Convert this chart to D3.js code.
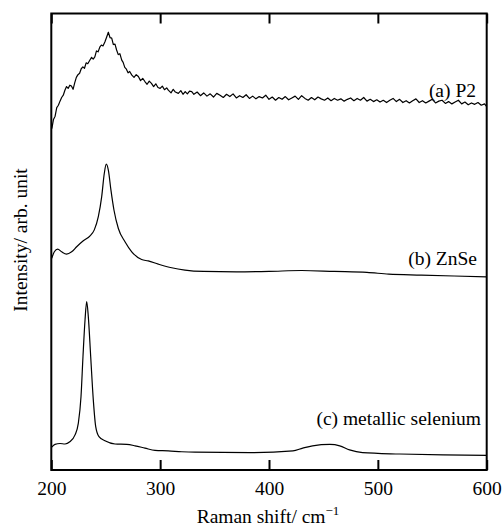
<!DOCTYPE html>
<html>
<head>
<meta charset="utf-8">
<script src="https://cdn.jsdelivr.net/npm/d3@7"></script>
<style>
  body { margin: 0; background: #fff; }
  svg { display: block; }
  text { font-family: "Liberation Serif", "DejaVu Serif", serif; fill: #000; }
</style>
</head>
<body>
<svg id="chart"></svg>
<script>
const width = 502;
const height = 527;
const margin = { top: 13.5, right: 15.3, bottom: 57, left: 51.3 };
const fontSize = 19.5;

// x ticks (Raman shift, cm-1)
const xTicks = [200, 300, 400, 500, 600];

// (a) P2 : [shift, intensity]
const seriesP2 = [
  [200.5,74.8],[202,76.8],[203.5,77.5],[205,79.4],[206.5,79.9],[208,80.8],[209.5,81.6],[211,82.1],
  [212.5,83.2],[214,84.0],[215.5,83.6],[217,84.3],[218.5,84.1],[220,83.4],[221.5,84.8],[223,86.0],
  [224.5,86.6],[226,86.9],[227.5,87.9],[229,88.3],[230.5,88.0],[232,89.2],[233.5,89.0],[235.5,89.8],
  [237,90.4],[238.5,90.0],[240,90.5],[241.5,91.8],[243,91.6],[244.7,92.7],[246,93.1],[247.5,92.9],
  [249.3,93.8],[250.8,94.8],[252.4,95.9],[254,94.7],[255.5,94.6],[257,93.2],[258.5,93.3],[260,92.0],
  [261.5,91.0],[263,91.2],[264.7,89.8],[266,89.3],[267.5,88.2],[269,87.8],[270.5,87.0],[272,87.3],
  [274,86.5],[276,86.0],[278,86.6],[280,86.2],[282,85.3],[284,85.8],[286,85.1],[288,84.5],
  [290,85.2],[292,84.7],[294,84.0],[296,84.6],[298,83.8],[300,83.6],[302,84.1],[304,83.3],
  [306,83.7],[307.5,83.2],[310,82.6],[312,83.4],[314,82.8],[316.7,82.5],[319,83.1],[321,82.3],
  [323,82.9],[325,82.4],[327,83.0],[329,82.9],[331,82.3],[334,82.8],[337,82.0],[340,82.6],
  [343,81.9],[346,82.4],[349,81.7],[352,82.5],[355,82.1],[358,81.6],[361,82.3],[364,81.8],
  [367,82.4],[370,81.5],[373,82.0],[376,81.6],[379,82.2],[382,81.4],[385,81.9],[388,81.3],
  [391,81.8],[394,81.5],[397,82.1],[400,81.2],[403,81.7],[406,81.0],[409,81.6],[412,81.2],
  [415,81.8],[418,81.1],[421,81.5],[424,81.9],[427,81.2],[430,82.0],[433,81.4],[436,81.0],
  [439,81.6],[442,81.1],[445,81.7],[448,81.3],[451,81.0],[454,81.5],[457,80.9],[460,81.4],
  [463,81.0],[466,81.3],[469,80.8],[472,81.2],[475,81.5],[478,80.9],[481,81.4],[484,81.0],
  [487,81.6],[490,80.8],[493,81.2],[496,80.7],[499,81.1],[502,80.6],[505,81.0],[508,80.5],
  [511,81.0],[514,81.4],[517,80.7],[520,81.2],[523,80.5],[526,80.9],[529,80.4],[532,80.9],
  [535,81.3],[538,80.5],[541,80.9],[544,80.4],[547,80.8],[550,81.2],[553,80.4],[556,80.8],
  [559,81.0],[562,80.3],[565,80.7],[568,80.2],[571,80.6],[574,81.0],[577,80.2],[580,80.6],
  [583,80.0],[586,80.4],[589,80.1],[592,80.5],[595,79.9],[598,80.2],[600,79.6]
];

// (b) ZnSe
const seriesZnSe = [
  [200.4,46.4],[202.8,47.8],[205.9,48.4],[209.5,47.8],[214,47.3],[218.7,47.8],[223.3,48.9],
  [229.4,50.2],[235.6,51.3],[239.5,52.6],[243.2,55.5],[246.3,59.9],[248.7,65.0],[250.5,67.0],
  [252.4,65.7],[254.8,61.3],[257.6,56.9],[261.6,52.9],[267.7,50.0],[273.9,47.8],[283,46.1],
  [289,45.8],[298.3,45.1],[310.6,44.3],[322.8,43.8],[340,43.5],[370,43.4],[400,43.5],
  [430,43.7],[460,43.5],[490,43.3],[510,42.9],[540,42.7],[570,42.5],[600,42.3]
];

// (c) metallic selenium
const seriesSe = [
  [200.4,5.0],[203.4,5.6],[208,5.8],[212.6,5.7],[217,6.2],[221.8,7.7],[224.8,10.2],[227.3,16.1],
  [229.1,24.8],[231,32.9],[232.5,36.9],[234,33.6],[236.2,24.8],[238.6,15.3],[240.8,9.5],
  [243.8,7.3],[249.3,6.4],[258.5,5.7],[269.3,5.6],[276.9,5.3],[286,4.8],[295.3,4.3],[307.5,4.2],
  [319.8,4.0],[332,3.9],[383,3.8],[422,4.2],[431,4.8],[440,5.3],[456,5.6],[465,5.3],[474,4.4],
  [486,3.8],[520,3.5],[560,3.3],[600,3.2]
];

const labels = [
  { text: "(a) P2", x: 476, y: 97 },
  { text: "(b) ZnSe", x: 477, y: 265 },
  { text: "(c) metallic selenium", x: 481, y: 425 }
];

const svg = d3.select("#chart")
    .attr("width", width)
    .attr("height", height);

const x = d3.scaleLinear()
    .domain([200, 600])
    .range([margin.left, width - margin.right]);

const y = d3.scaleLinear()
    .domain([0, 100])
    .range([height - margin.bottom, margin.top]);

// curves
const lineJagged = d3.line()
    .x(d => x(d[0]))
    .y(d => y(d[1]));

const lineSmooth = d3.line()
    .x(d => x(d[0]))
    .y(d => y(d[1]))
    .curve(d3.curveMonotoneX);

svg.append("path")
    .datum(seriesP2)
    .attr("fill", "none")
    .attr("stroke", "#000")
    .attr("stroke-width", 1.2)
    .attr("stroke-linejoin", "round")
    .attr("d", lineJagged);

[seriesZnSe, seriesSe].forEach(s => {
  svg.append("path")
      .datum(s)
      .attr("fill", "none")
      .attr("stroke", "#000")
      .attr("stroke-width", 1.2)
      .attr("d", lineSmooth);
});

// axes, ticks pointing inward
const xAxisBottom = svg.append("g")
    .attr("transform", `translate(0,${height - margin.bottom})`)
    .call(d3.axisBottom(x).tickValues(xTicks).tickSizeInner(-10).tickSizeOuter(0).tickPadding(11));

const xAxisTop = svg.append("g")
    .attr("transform", `translate(0,${margin.top})`)
    .call(d3.axisTop(x).tickValues(xTicks).tickSizeInner(-10).tickSizeOuter(0).tickFormat(""));

[xAxisBottom, xAxisTop].forEach(g => {
  g.select(".domain").remove();
  g.selectAll(".tick line").attr("stroke", "#000").attr("stroke-width", 2);
});

xAxisBottom.selectAll(".tick text")
    .attr("font-size", fontSize)
    .attr("font-family", "Liberation Serif, serif")
    .attr("fill", "#000");

// frame
svg.append("rect")
    .attr("x", margin.left)
    .attr("y", margin.top)
    .attr("width", width - margin.left - margin.right)
    .attr("height", height - margin.top - margin.bottom)
    .attr("fill", "none")
    .attr("stroke", "#000")
    .attr("stroke-width", 2);

// series labels
svg.append("g")
  .selectAll("text")
  .data(labels)
  .join("text")
    .attr("x", d => d.x)
    .attr("y", d => d.y)
    .attr("text-anchor", "end")
    .attr("font-size", fontSize)
    .text(d => d.text);

// axis titles
const xTitle = svg.append("text")
    .attr("x", 268)
    .attr("y", 523)
    .attr("text-anchor", "middle")
    .attr("font-size", fontSize);
xTitle.append("tspan").text("Raman shift/ cm");
xTitle.append("tspan").attr("dy", -8).attr("font-size", 13).text("\u22121");

svg.append("text")
    .attr("transform", "translate(27,240) rotate(-90)")
    .attr("text-anchor", "middle")
    .attr("font-size", fontSize)
    .text("Intensity/ arb. unit");
</script>
</body>
</html>
